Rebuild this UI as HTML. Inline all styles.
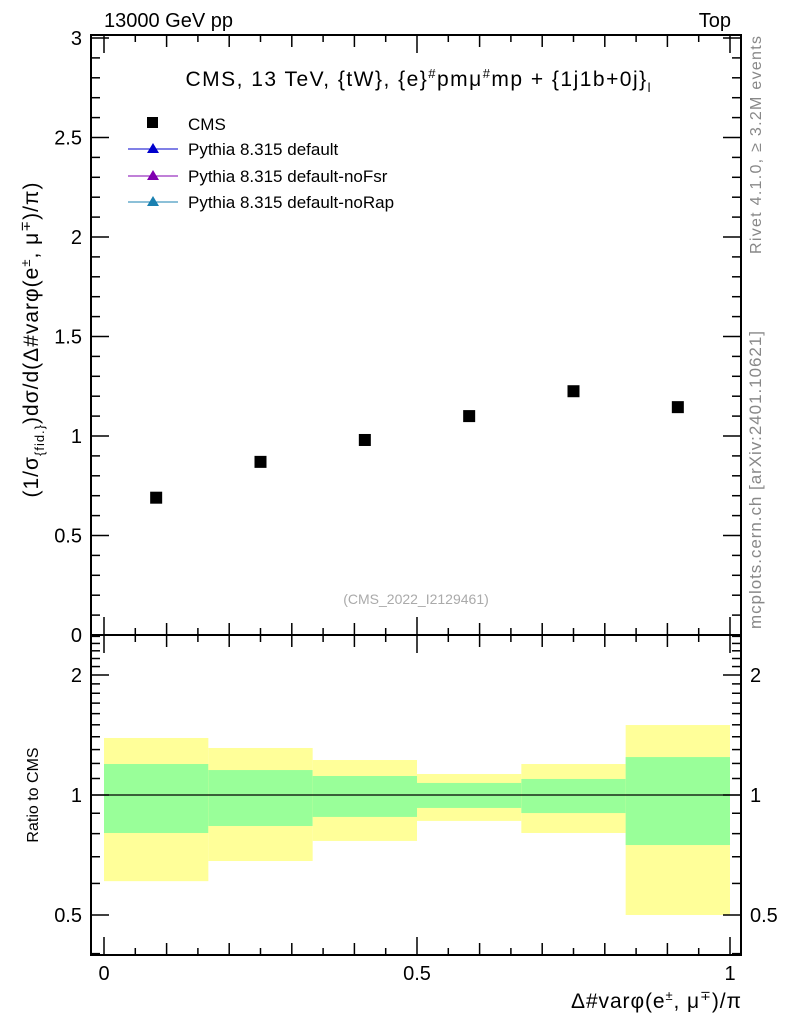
<!DOCTYPE html>
<html><head><meta charset="utf-8"><style>
body{margin:0;background:#fff;}
svg{display:block;font-family:"Liberation Sans",sans-serif;}
</style></head><body>
<svg id="c" width="786" height="1024" xmlns="http://www.w3.org/2000/svg">
<text x="104" y="27" font-size="20">13000 GeV pp</text>
<text x="731" y="27" font-size="20" text-anchor="end">Top</text>
<text x="418" y="86" font-size="21" text-anchor="middle" textLength="465">CMS, 13 TeV, {tW}, {e}<tspan dy="-8" font-size="13">#</tspan><tspan dy="8">pmμ</tspan><tspan dy="-8" font-size="13">#</tspan><tspan dy="8">mp + {1j1b+0j}</tspan><tspan dy="6" font-size="13">l</tspan></text>
<g>
<rect x="147" y="117" width="11" height="11" fill="#000"/>
<text x="188" y="130" font-size="17">CMS</text>
<line x1="128" y1="149" x2="178" y2="149" stroke="#0000cc"/>
<polygon points="153,143 159,153 147,153" fill="#0000cc"/>
<text x="188" y="155" font-size="17">Pythia 8.315 default</text>
<line x1="128" y1="176" x2="178" y2="176" stroke="#8000b0"/>
<polygon points="153,170 159,180 147,180" fill="#8000b0"/>
<text x="188" y="182" font-size="17">Pythia 8.315 default-noFsr</text>
<line x1="128" y1="202" x2="178" y2="202" stroke="#1a80b0"/>
<polygon points="153,196 159,206 147,206" fill="#1a80b0"/>
<text x="188" y="208" font-size="17">Pythia 8.315 default-noRap</text>
</g>
<text x="416" y="604" font-size="14" fill="#aaa" text-anchor="middle">(CMS_2022_I2129461)</text>
<text transform="translate(761,145) rotate(-90)" font-size="16" fill="#888" text-anchor="middle" textLength="218">Rivet 4.1.0, ≥ 3.2M events</text>
<text transform="translate(761,480) rotate(-90)" font-size="17" fill="#888" text-anchor="middle" textLength="298">mcplots.cern.ch [arXiv:2401.10621]</text>
<text transform="translate(38,340) rotate(-90)" font-size="21" text-anchor="middle" textLength="315">(1/σ<tspan dy="6" font-size="13">{fid.}</tspan><tspan dy="-6">)dσ/d(Δ#varφ(e</tspan><tspan dy="-8" font-size="13">±</tspan><tspan dy="8">, μ</tspan><tspan dy="-8" font-size="13">∓</tspan><tspan dy="8">)/π)</tspan></text>
<text transform="translate(38,795) rotate(-90)" font-size="16" text-anchor="middle">Ratio to CMS</text>
<text x="741" y="1008" font-size="21" text-anchor="end" textLength="170">Δ#varφ(e<tspan dy="-8" font-size="13">±</tspan><tspan dy="8">, μ</tspan><tspan dy="-8" font-size="13">∓</tspan><tspan dy="8">)/π</tspan></text>
<g id="bands"></g><g id="ticks"></g><g id="pts"></g>
<rect x="91" y="35" width="650" height="600" fill="none" stroke="#000" stroke-width="2"/>
<rect x="91" y="635" width="650" height="320" fill="none" stroke="#000" stroke-width="2"/>
</svg>
<script>
const binEdges=[0,1/6,2/6,3/6,4/6,5/6,1];
const cmsValues=[0.69,0.87,0.98,1.10,1.225,1.145];
const yellowUp=[1.39,1.312,1.224,1.129,1.196,1.498];
const yellowDn=[0.608,0.683,0.767,0.861,0.803,0.5];
const greenUp=[1.196,1.155,1.116,1.072,1.097,1.245];
const greenDn=[0.803,0.836,0.881,0.928,0.901,0.749];
const mainTicks=["0","0.5","1","1.5","2","2.5","3"];
const xTickLabels=["0","0.5","1"];
const ratioTickLabels=["0.5","1","2"];
const NS="http://www.w3.org/2000/svg";
const X=v=>104+v*626;
const Y=v=>635-v*199;
const R=v=>795-120*Math.log2(v);
function mk(t,a,p){const e=document.createElementNS(NS,t);for(const k in a)e.setAttribute(k,a[k]);p.appendChild(e);return e;}
const bands=document.getElementById('bands'),ticks=document.getElementById('ticks'),pts=document.getElementById('pts');
for(let i=0;i<cmsValues.length;i++){
 const x0=X(binEdges[i]),x1=X(binEdges[i+1]);
 let e=mk('rect',{x:x0,y:R(yellowUp[i]),width:x1-x0,height:R(yellowDn[i])-R(yellowUp[i]),fill:'#ffff99'},bands);
 
 
 e=mk('rect',{x:x0,y:R(greenUp[i]),width:x1-x0,height:R(greenDn[i])-R(greenUp[i]),fill:'#99ff99'},bands);
 
 
 const xc=X((binEdges[i]+binEdges[i+1])/2);
 e=mk('rect',{x:xc-6,y:Y(cmsValues[i])-6,width:12,height:12,fill:'#000'},pts);
 
 
}
let ln=mk('line',{x1:91,x2:741,y1:R(1),y2:R(1),stroke:'#000','stroke-width':1.2},bands);


function tk(x1,y1,x2,y2){mk('line',{x1,y1,x2,y2,stroke:'#000','stroke-width':1.5},ticks);}
for(let k=0;k<=30;k++){const v=k/10,y=Y(v),L=k%5==0?18:9;tk(91,y,91+L,y);tk(741,y,741-L,y);}
mainTicks.forEach(s=>{const e=mk('text',{x:82,y:Y(parseFloat(s))+7,'font-size':20,'text-anchor':'end'},ticks);e.textContent=s;
 
 });
for(let k=0;k<=20;k++){const x=X(k/20),L=k%2==0?(k%10==0?18:12):7;
 tk(x,635,x,635-L);tk(x,35,x,35+L);tk(x,955,x,955-L);tk(x,635,x,635+L);}
xTickLabels.forEach(s=>{const e=mk('text',{x:X(parseFloat(s)),y:980,'font-size':20,'text-anchor':'middle'},ticks);e.textContent=s;
 
 });
for(let k=4;k<=25;k++){const v=k/10,y=R(v);if(y<636||y>954)continue;const L=(k==5||k==10||k==20)?18:9;tk(91,y,91+L,y);tk(741,y,741-L,y);}
ratioTickLabels.forEach(s=>{const y=R(parseFloat(s))+7;
 let e=mk('text',{x:82,y,'font-size':20,'text-anchor':'end'},ticks);e.textContent=s;
 
 
 e=mk('text',{x:750,y,'font-size':20},ticks);e.textContent=s;
 
 });
</script>
</body></html>
